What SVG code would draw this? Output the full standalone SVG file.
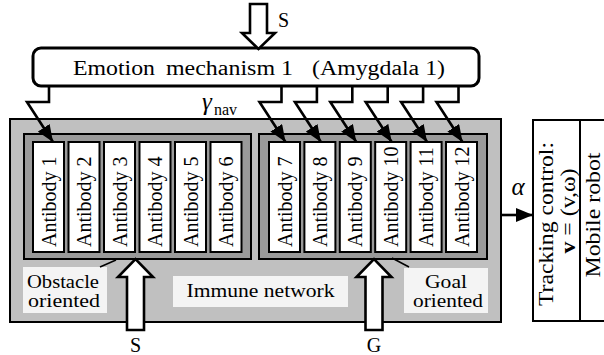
<svg xmlns="http://www.w3.org/2000/svg" width="604" height="355" viewBox="0 0 604 355" font-family="'Liberation Serif', 'DejaVu Serif', serif">
<style>
text{font-family:'Liberation Serif','DejaVu Serif',serif;fill:#000}
.ab{font-size:20px}
.abox{fill:#fff;stroke:#000;stroke-width:2}
.conn{fill:none;stroke:#000;stroke-width:2.6;stroke-linejoin:miter}
.hollow{fill:#fff;stroke:#000;stroke-width:2.6;stroke-linejoin:miter}
.lbl{fill:#f4f4f4;stroke:none}
</style>
<defs>
<marker id="ah" markerUnits="userSpaceOnUse" markerWidth="18" markerHeight="14" refX="17" refY="7" orient="auto">
<path d="M0,0 L17,7 L0,14 z" fill="#000"/>
</marker>
</defs>
<rect width="604" height="355" fill="#fff"/>

<g id="immune-network">
<rect x="10" y="119" width="491" height="203" fill="#c0c0c0" stroke="#000" stroke-width="2"/>
<rect x="24" y="134" width="227" height="125" fill="#9a9a9a" stroke="#000" stroke-width="2"/>
<rect x="259" y="134" width="228" height="125" fill="#9a9a9a" stroke="#000" stroke-width="2"/>
<rect class="lbl" x="173" y="276" width="175" height="31"/>
<text x="260.5" y="297" font-size="19" text-anchor="middle" textLength="148" lengthAdjust="spacingAndGlyphs">Immune network</text>
</g>

<g id="obstacle-label">
<rect class="lbl" x="23" y="267" width="84" height="46"/>
<text x="63" y="288" font-size="18" text-anchor="middle" textLength="72" lengthAdjust="spacingAndGlyphs">Obstacle</text>
<text x="64" y="307" font-size="18" text-anchor="middle" textLength="72" lengthAdjust="spacingAndGlyphs">oriented</text>
<line x1="100" y1="267" x2="116" y2="260" stroke="#000" stroke-width="1.5"/>
</g>

<g id="goal-label">
<rect class="lbl" x="404" y="268" width="84" height="45"/>
<text x="446" y="288" font-size="18" text-anchor="middle" textLength="42" lengthAdjust="spacingAndGlyphs">Goal</text>
<text x="448" y="307" font-size="18" text-anchor="middle" textLength="70" lengthAdjust="spacingAndGlyphs">oriented</text>
<line x1="392" y1="258" x2="409" y2="267" stroke="#000" stroke-width="1.5"/>
</g>

<g id="antibody-1"><rect class="abox" x="33" y="142" width="31" height="110"/><text class="ab" transform="translate(55.5,247) rotate(-90)">Antibody 1</text></g>
<g id="antibody-2"><rect class="abox" x="68.5" y="142" width="31" height="110"/><text class="ab" transform="translate(91,247) rotate(-90)">Antibody 2</text></g>
<g id="antibody-3"><rect class="abox" x="104" y="142" width="31" height="110"/><text class="ab" transform="translate(126.5,247) rotate(-90)">Antibody 3</text></g>
<g id="antibody-4"><rect class="abox" x="139.5" y="142" width="31" height="110"/><text class="ab" transform="translate(162,247) rotate(-90)">Antibody 4</text></g>
<g id="antibody-5"><rect class="abox" x="175" y="142" width="31" height="110"/><text class="ab" transform="translate(197.5,247) rotate(-90)">Antibody 5</text></g>
<g id="antibody-6"><rect class="abox" x="210.5" y="142" width="31" height="110"/><text class="ab" transform="translate(233,247) rotate(-90)">Antibody 6</text></g>
<g id="antibody-7"><rect class="abox" x="269" y="142" width="31" height="110"/><text class="ab" transform="translate(291.5,247) rotate(-90)">Antibody 7</text></g>
<g id="antibody-8"><rect class="abox" x="304.4" y="142" width="31" height="110"/><text class="ab" transform="translate(326.9,247) rotate(-90)">Antibody 8</text></g>
<g id="antibody-9"><rect class="abox" x="339.8" y="142" width="31" height="110"/><text class="ab" transform="translate(362.3,247) rotate(-90)">Antibody 9</text></g>
<g id="antibody-10"><rect class="abox" x="375.2" y="142" width="31" height="110"/><text class="ab" transform="translate(397.7,247) rotate(-90)">Antibody 10</text></g>
<g id="antibody-11"><rect class="abox" x="410.6" y="142" width="31" height="110"/><text class="ab" transform="translate(433.1,247) rotate(-90)">Antibody 11</text></g>
<g id="antibody-12"><rect class="abox" x="446" y="142" width="31" height="110"/><text class="ab" transform="translate(468.5,247) rotate(-90)">Antibody 12</text></g>

<g id="emotion-mechanism">
<rect x="33" y="48" width="446" height="38" rx="8" ry="8" fill="#fff" stroke="#000" stroke-width="3"/>
<text x="73" y="75" font-size="20" textLength="82" lengthAdjust="spacingAndGlyphs">Emotion</text>
<text x="166" y="75" font-size="20" textLength="127" lengthAdjust="spacingAndGlyphs">mechanism 1</text>
<text x="312" y="75" font-size="20" textLength="133" lengthAdjust="spacingAndGlyphs">(Amygdala 1)</text>
</g>

<g id="tracking-control">
<rect x="533" y="120" width="90" height="201" fill="#fff" stroke="#000" stroke-width="2"/>
<line x1="580" y1="120" x2="580" y2="321" stroke="#000" stroke-width="2"/>
<text transform="translate(553,224) rotate(-90)" font-size="20" text-anchor="middle" textLength="164" lengthAdjust="spacingAndGlyphs">Tracking control:</text>
<text transform="translate(575,211) rotate(-90)" font-size="20" text-anchor="middle" textLength="85" lengthAdjust="spacingAndGlyphs"><tspan font-weight="bold">v</tspan> = (v,ω)</text>
<text transform="translate(600,215) rotate(-90)" font-size="20" text-anchor="middle" textLength="125" lengthAdjust="spacingAndGlyphs">Mobile robot</text>
</g>

<g id="connectors">
<polygon class="hollow" points="250,4 267,4 267,33 275,33 258.5,49 242,33 250,33"/>
<text x="278" y="27" font-size="20">S</text>
<polygon class="hollow" points="127,330 144,330 144,277 153,277 135.5,259 118,277 127,277"/>
<text x="135.5" y="352" font-size="20" text-anchor="middle">S</text>
<polygon class="hollow" points="365.5,330 382.5,330 382.5,277 391.5,277 374,259 356.5,277 365.5,277"/>
<text x="374" y="352" font-size="20" text-anchor="middle">G</text>

<path class="conn" marker-end="url(#ah)" d="M49,86 V102 H27 L53,142"/>
<path class="conn" marker-end="url(#ah)" d="M281.5,86 V102 H259.5 L285.5,142"/>
<path class="conn" marker-end="url(#ah)" d="M316.9,86 V102 H294.9 L320.9,142"/>
<path class="conn" marker-end="url(#ah)" d="M352.3,86 V102 H330.3 L356.3,142"/>
<path class="conn" marker-end="url(#ah)" d="M387.7,86 V102 H365.7 L391.7,142"/>
<path class="conn" marker-end="url(#ah)" d="M423.1,86 V102 H401.1 L427.1,142"/>
<path class="conn" marker-end="url(#ah)" d="M458.5,86 V102 H436.5 L462.5,142"/>
<text x="202" y="110" font-size="25" font-style="italic">γ</text>
<text x="214" y="115" font-size="16">nav</text>

<path class="conn" marker-end="url(#ah)" d="M501,215 H533"/>
<text x="518" y="195" font-size="25" font-style="italic" text-anchor="middle">α</text>
</g>
</svg>
